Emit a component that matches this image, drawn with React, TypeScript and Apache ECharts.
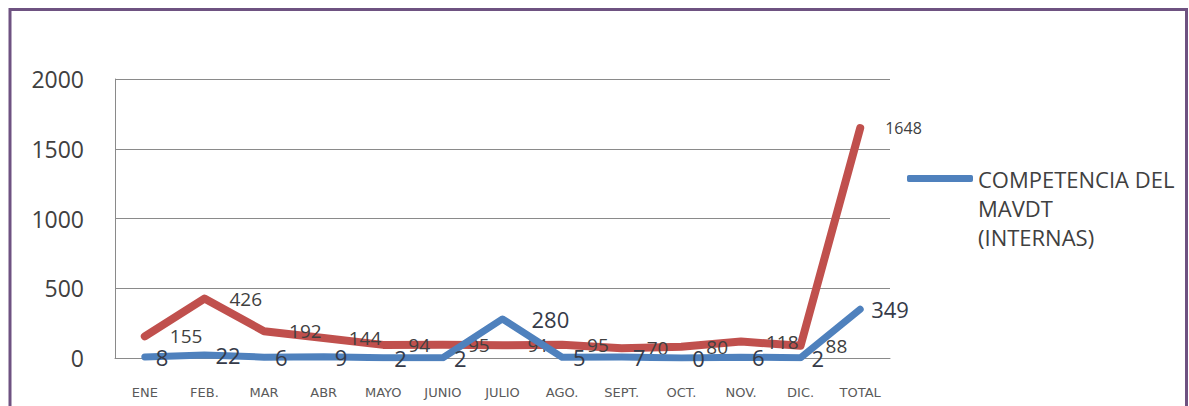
import React, { useEffect, useRef } from "react";
import * as echarts from "echarts";

const categories = ["ENE", "FEB.", "MAR", "ABR", "MAYO", "JUNIO", "JULIO", "AGO.", "SEPT.", "OCT.", "NOV.", "DIC.", "TOTAL"];
const internasName = "COMPETENCIA DEL MAVDT (INTERNAS)";
const externasName = "EXTERNAS";
const internasValues = [8, 22, 6, 9, 2, 2, 280, 5, 7, 0, 6, 2, 349];
const externasValues = [155, 426, 192, 144, 94, 95, 91, 95, 70, 80, 118, 88, 1648];
const yTicks = { min: 0, max: 2000, interval: 500 };

const FONT = "'Open Sans', 'Noto Sans', sans-serif";

export default function App() {
  const ref = useRef<HTMLDivElement>(null);
  useEffect(() => {
    if (!ref.current) return;
    const chart = echarts.init(ref.current, null, { renderer: "svg" });
    const lastIdx = categories.length - 1;
    chart.setOption({
      animation: false,
      backgroundColor: "#ffffff",
      textStyle: { fontFamily: FONT },
      grid: { left: 115, right: 299, top: 79, bottom: 48, containLabel: false },
      legend: {
        data: [internasName],
        left: 907,
        top: 106,
        padding: 0,
        icon: "roundRect",
        itemWidth: 66,
        itemHeight: 7,
        formatter: () => "\n\nCOMPETENCIA DEL\nMAVDT\n(INTERNAS)",
        textStyle: { fontSize: 22, color: "#404040", lineHeight: 29, fontFamily: FONT },
      },
      xAxis: {
        type: "category",
        data: categories,
        boundaryGap: true,
        axisLine: { show: true, lineStyle: { color: "#8a8a8a", width: 1 } },
        axisTick: { show: false },
        axisLabel: { margin: 28, fontSize: 13, color: "#5a5a5a", fontFamily: "'DejaVu Sans', sans-serif" },
      },
      yAxis: {
        type: "value",
        min: yTicks.min,
        max: yTicks.max,
        interval: yTicks.interval,
        axisLine: { show: true, lineStyle: { color: "#8a8a8a", width: 1 } },
        axisTick: { show: false },
        splitLine: { show: true, lineStyle: { color: "#8a8a8a", width: 1 } },
        axisLabel: { margin: 31, fontSize: 23, color: "#404040", fontFamily: FONT, formatter: (v: number) => String(v) },
      },
      series: [
        {
          name: externasName,
          type: "line",
          data: externasValues.map((v, i) =>
            i === lastIdx ? { value: v, label: { fontSize: 16 } } : v
          ),
          symbol: "circle",
          symbolSize: 2,
          itemStyle: { color: "#c0504d" },
          lineStyle: { color: "#c0504d", width: 8, cap: "round", join: "round" },
          label: { show: true, position: "right", distance: 24, fontSize: 19, color: "#404040", fontFamily: FONT },
          z: 2,
        },
        {
          name: internasName,
          type: "line",
          data: internasValues.map((v, i) =>
            i === 6 ? { value: v, label: { distance: 28 } } : v
          ),
          symbol: "circle",
          symbolSize: 2,
          itemStyle: { color: "#4f81bd" },
          lineStyle: { color: "#4f81bd", width: 7, cap: "round", join: "round" },
          label: { show: true, position: "right", distance: 10, fontSize: 22, color: "#353a48", fontFamily: FONT },
          z: 3,
        },
      ],
      graphic: [
        {
          type: "rect",
          silent: true,
          z: 100,
          shape: { x: 10, y: 9.5, width: 1176.5, height: 420 },
          style: { fill: "none", stroke: "#6e5281", lineWidth: 3 },
        },
      ],
    });
    return () => chart.dispose();
  }, []);
  return <div ref={ref} style={{ position: "fixed", left: 0, top: 0, width: 1189, height: 406 }} />;
}
